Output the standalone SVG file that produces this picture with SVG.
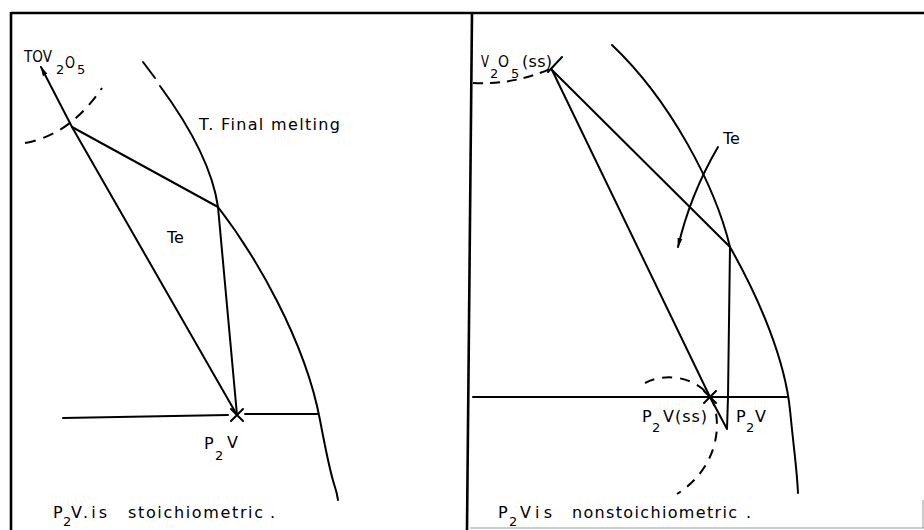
<svg xmlns="http://www.w3.org/2000/svg" width="924" height="530" viewBox="0 0 924 530">
<style>
.ln{fill:none;stroke:#000;stroke-width:2;stroke-linecap:round;stroke-linejoin:round}
.bd{fill:none;stroke:#000;stroke-width:2.6}
.ds{fill:none;stroke:#000;stroke-width:2;stroke-dasharray:11 8}
text{font-family:"DejaVu Sans","Liberation Sans",sans-serif;font-size:16px;fill:#000}
.sb{font-size:13px}
</style>
<defs>
<marker id="ah" viewBox="0 0 10 10" refX="9" refY="5" markerWidth="10" markerHeight="10" markerUnits="userSpaceOnUse" orient="auto">
<path d="M0,2.5 L10,5 L0,7.5 Z" fill="#000"/>
</marker>
</defs>
<rect width="924" height="530" fill="#fff"/>
<g id="frame">
<path class="bd" d="M11,13 L924,13"/>
<path class="bd" d="M11,12 L11,530"/>
<path class="bd" d="M472,13 L467,530"/>
<path d="M470,528 L924,528 M923,500 L923,528" fill="none" stroke="#999" stroke-width="1"/>
</g>
<g id="connectors">
<path class="ds" d="M25,143 Q70,135 102,88"/>
<path class="ln" d="M72,127 L41,67" marker-end="url(#ah)"/>
<path class="ln" d="M72,127 L218,207"/>
<path class="ln" d="M72,127 L237,415"/>
<path class="ln" d="M218,207 L237,415"/>
<path class="ln" d="M143,62 L155,78"/>
<path class="ln" d="M160,86 C185,120 212,165 218,207 C255,255 305,340 320,420 S335,480 338,500"/>
<path class="ln" d="M63,418 L228,415 M245,414 L318,414"/>
<path class="ln" d="M231,409 L243,421 M243,409 L231,421"/>
<path class="ds" d="M473,83 Q515,85 552,68" style="stroke-dasharray:10 7"/>
<path class="ln" d="M548,72 L562,57"/>
<path class="ln" d="M552,70 L710,397"/>
<path class="ln" d="M552,70 L730,247"/>
<path class="ln" d="M612,45 C670,100 715,185 730,247 C760,300 785,360 790,410 S797,470 798,493"/>
<path class="ln" d="M730,247 L728,397 L727,429 L710,397"/>
<path class="ln" d="M718,147 Q690,195 678,247" marker-end="url(#ah)"/>
<path class="ln" d="M473,397 L787,397"/>
<path class="ln" d="M704,391 L716,403 M716,391 L704,403"/>
<path class="ds" d="M645,383 C670,370 705,380 714,405 C722,430 715,470 677,494" style="stroke-dasharray:10 8"/>
</g>
<g id="label-left-top">
<text x="24" y="62" textLength="28" lengthAdjust="spacingAndGlyphs">TOV</text>
<text class="sb" x="56" y="74">2</text>
<text x="65" y="68" textLength="10" lengthAdjust="spacingAndGlyphs">O</text>
<text class="sb" x="77" y="74">5</text>
</g>
<g id="label-final-melting"><text x="199" y="130" textLength="141" lengthAdjust="spacing">T. Final melting</text></g>
<g id="label-te-left"><text x="167" y="243">Te</text></g>
<g id="label-p2v-left">
<text x="204" y="449">P</text><text class="sb" x="215" y="460">2</text><text x="227" y="448">V</text>
</g>
<g id="caption-left">
<text x="53" y="518">P</text><text class="sb" x="63" y="526">2</text>
<text x="71" y="518" textLength="36" lengthAdjust="spacing">V.is</text>
<text x="128" y="518" textLength="135" lengthAdjust="spacing">stoichiometric</text>
<text x="270" y="518">.</text>
</g>
<g id="label-v2o5ss">
<text x="481" y="67" textLength="8" lengthAdjust="spacingAndGlyphs">V</text><text class="sb" x="490" y="78">2</text>
<text x="498" y="67" textLength="11" lengthAdjust="spacingAndGlyphs">O</text><text class="sb" x="511" y="78">5</text>
<text x="522" y="67" textLength="30" lengthAdjust="spacing">(ss)</text>
</g>
<g id="label-te-right"><text x="723" y="144">Te</text></g>
<g id="label-p2vss">
<text x="642" y="422">P</text><text class="sb" x="652" y="432">2</text>
<text x="663" y="422" textLength="44" lengthAdjust="spacing">V(ss)</text>
</g>
<g id="label-p2v-right">
<text x="736" y="422">P</text><text class="sb" x="746" y="432">2</text><text x="755" y="422">V</text>
</g>
<g id="caption-right">
<text x="498" y="518">P</text><text class="sb" x="509" y="526">2</text>
<text x="520" y="518" textLength="32" lengthAdjust="spacing">Vis</text>
<text x="572" y="518" textLength="165" lengthAdjust="spacing">nonstoichiometric</text>
<text x="746" y="518">.</text>
</g>
</svg>
